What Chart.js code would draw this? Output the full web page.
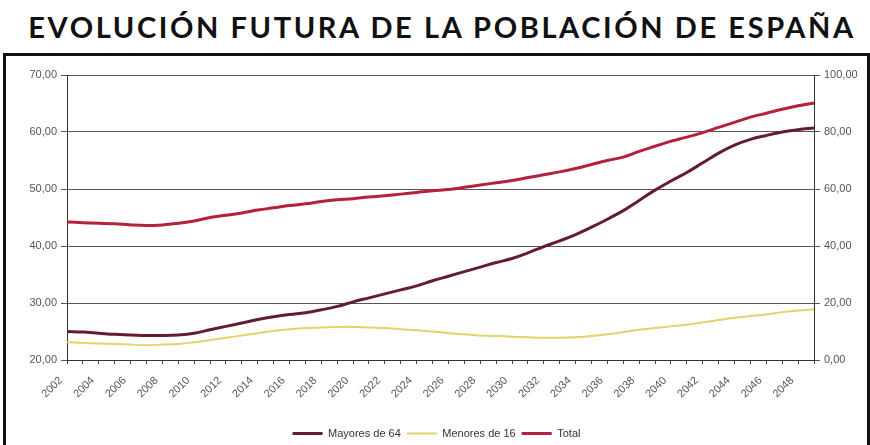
<!DOCTYPE html>
<html>
<head>
<meta charset="utf-8">
<script src="https://cdn.jsdelivr.net/npm/chart.js@4/dist/chart.umd.min.js"></script>
<style>
  body { margin: 0; background: #fff; width: 870px; height: 445px; overflow: hidden; position: relative; }
  #title {
    position: absolute; left: 0; top: 9px; width: 884px; text-align: center;
    font-family: Lato, "Open Sans", sans-serif; font-weight: 700; font-size: 29px;
    letter-spacing: 2.6px; color: #111;
  }
  #box {
    position: absolute; left: 3px; top: 53px; width: 861px; height: 400px;
    border: 3px solid #111;
  }
  #wrap { position: absolute; left: 0; top: 0; width: 861px; height: 395px; }
</style>
</head>
<body>
<div id="title">EVOLUCIÓN FUTURA DE LA POBLACIÓN DE ESPAÑA</div>
<div id="box"><div id="wrap"><canvas id="chart"></canvas></div></div>
<script>
// Years 2002-2049
const years = [];
for (let y = 2002; y <= 2049; y++) years.push(String(y));

const mayores64 = [
    25.0, 24.9, 24.7, 24.5, 24.4, 24.3, 24.3, 24.4, 24.7, 25.3,
    25.9, 26.5, 27.1, 27.6, 28.0, 28.3, 28.8, 29.4, 30.2, 30.9,
    31.6, 32.3, 33.0, 33.9, 34.7, 35.5, 36.3, 37.1, 37.8, 38.8,
    39.9, 40.9, 42.0, 43.3, 44.7, 46.2, 48.0, 49.8, 51.4, 52.9,
    54.6, 56.3, 57.7, 58.7, 59.4, 60.0, 60.4, 60.7
];
const menores16 = [
    23.1, 23.0, 22.9, 22.8, 22.7, 22.6, 22.7, 22.8, 23.1, 23.5,
    23.9, 24.3, 24.7, 25.1, 25.4, 25.6, 25.7, 25.8, 25.8, 25.7,
    25.6, 25.4, 25.2, 25.0, 24.7, 24.5, 24.3, 24.2, 24.1, 24.0,
    23.9, 23.9, 24.0, 24.2, 24.5, 24.9, 25.3, 25.6, 25.9, 26.2,
    26.6, 27.0, 27.4, 27.7, 28.0, 28.4, 28.7, 28.9
];
const total = [
    44.2, 44.1, 44.0, 43.9, 43.7, 43.6, 43.7, 44.0, 44.4, 45.0,
    45.4, 45.8, 46.3, 46.7, 47.1, 47.4, 47.8, 48.1, 48.3, 48.6,
    48.8, 49.1, 49.4, 49.7, 49.9, 50.3, 50.7, 51.1, 51.5, 52.0,
    52.5, 53.0, 53.6, 54.3, 55.0, 55.6, 56.6, 57.5, 58.4, 59.1,
    59.9, 60.8, 61.7, 62.6, 63.3, 64.0, 64.6, 65.1
];

const fmt = v => v.toFixed(2).replace(".", ",");
const tickFont = { family: "'Liberation Sans', Arial, sans-serif", size: 11 };

const ctx = document.getElementById("chart").getContext("2d");

new Chart(ctx, {
    type: "line",
    data: {
        labels: years,
        datasets: [
            { label: "Mayores de 64", data: mayores64, borderColor: "#641c33", backgroundColor: "#641c33", borderWidth: 3 },
            { label: "Menores de 16", data: menores16, borderColor: "#e3d36a", backgroundColor: "#e3d36a", borderWidth: 2 },
            { label: "Total", data: total, borderColor: "#b5203c", backgroundColor: "#b5203c", borderWidth: 3 }
        ]
    },
    options: {
        responsive: true,
        maintainAspectRatio: false,
        animation: false,
        elements: {
            point: { radius: 0 },
            line: { tension: 0.4 }
        },
        layout: { padding: { top: 19, bottom: 2 } },
        plugins: {
            tooltip: { enabled: false },
            legend: {
                position: "bottom",
                labels: {
                    usePointStyle: true,
                    pointStyle: "line",
                    pointStyleWidth: 30,
                    boxHeight: 8,
                    padding: 6,
                    color: "#333",
                    font: tickFont
                }
            }
        },
        scales: {
            x: {
                offset: false,
                grid: { drawOnChartArea: false, color: "#444", tickLength: 4 },
                border: { color: "#333" },
                ticks: {
                    autoSkip: false,
                    minRotation: 45,
                    maxRotation: 45,
                    padding: 10,
                    labelOffset: -6,
                    color: "#555",
                    font: tickFont,
                    callback: (v, i) => (i % 2 === 0 ? years[i] : "")
                },
                afterFit: s => { s.height = 62; }
            },
            y: {
                position: "left",
                min: 20,
                max: 70,
                ticks: { stepSize: 10, color: "#555", font: tickFont, callback: fmt, padding: 4 },
                grid: { color: "#555", tickLength: 6 },
                border: { color: "#333" },
                afterFit: s => { s.width = 61; }
            },
            y1: {
                position: "right",
                min: 0,
                max: 100,
                ticks: { stepSize: 20, color: "#555", font: tickFont, callback: fmt, padding: 4 },
                grid: { drawOnChartArea: false, color: "#555", tickLength: 6 },
                border: { color: "#333" },
                afterFit: s => { s.width = 53; }
            }
        }
    }
});
</script>
</body>
</html>
